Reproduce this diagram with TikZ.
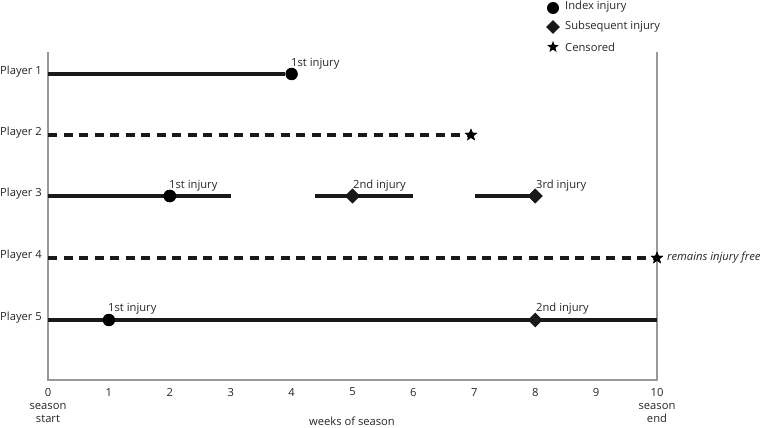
\documentclass[tikz,border=0pt]{standalone}
\usepackage{fontspec}
\setmainfont{Open Sans}
\usetikzlibrary{shapes.geometric}
\begin{document}
\begin{tikzpicture}[x=1pt,y=-1pt,
  lbl/.style={font=\fontsize{11.2}{13}\selectfont, inner sep=0pt, text=black!85},
  axisline/.style={draw=black!40, line width=1.4pt},
  track/.style={line width=3.8pt, draw=black!90},
  dtrack/.style={line width=3.8pt, draw=black!90, dash pattern=on 9pt off 6.5pt},
  idx/.style={circle, fill=black, inner sep=0pt, minimum size=12.5pt},
  sub/.style={diamond, fill=black!90, inner sep=0pt, minimum size=15pt},
  cens/.style={star, star points=5, star point ratio=2.3, fill=black, inner sep=0pt, minimum size=13pt}]
\useasboundingbox (0,0) rectangle (766,428);
% axes
\coordinate (o) at (48,380);
\coordinate (otop) at (48,52);
\coordinate (e) at (657,380);
\coordinate (etop) at (657,52);
\draw[axisline] (otop) -- (o) -- (e) -- (etop);
% ticks
\foreach \i in {0,...,10} {
  \node[lbl] (t\i) at ({48+60.9*\i},392) {\i};
}
\node[lbl, align=center, font=\fontsize{11.2}{13.5}\selectfont] (ss) at (48,413) {season\\start};
\node[lbl, align=center, font=\fontsize{11.2}{13.5}\selectfont] (se) at (657,413) {season\\end};
\node[lbl] (wk) at (352,421) {weeks of season};
% player labels
\foreach \p/\y in {1/74,2/135,3/196,4/258,5/320} {
  \node[lbl, anchor=west] (pl\p) at (0,\y-2) {Player \p};
}
% Player 1
\coordinate (p1s) at (48,74);
\node[idx] (p1a) at (291.6,74) {};
\draw[track] (p1s) -- (p1a);
\node[lbl, anchor=south west] (p1al) at (291,69) {1st injury};
% Player 2
\coordinate (p2s) at (48,135);
\node[cens] (p2c) at (471,135) {};
\draw[dtrack] (p2s) -- (p2c.center);
\node[cens] at (471,135) {};
% Player 3
\coordinate (p3s) at (48,196);
\coordinate (p3e1) at (231,196);
\coordinate (p3s2) at (315,196);
\coordinate (p3e2) at (413,196);
\coordinate (p3s3) at (475,196);
\node[idx] (p3a) at (169.8,196) {};
\node[sub] (p3b) at (352.5,196) {};
\node[sub] (p3c) at (535.2,196) {};
\draw[track] (p3s) -- (p3e1);
\draw[track] (p3s2) -- (p3e2);
\draw[track] (p3s3) -- (p3c.center);
\node[idx] at (169.8,196) {};
\node[sub] at (352.5,196) {};
\node[sub] at (535.2,196) {};
\node[lbl, anchor=south west] (p3al) at (169,191) {1st injury};
\node[lbl, anchor=south west] (p3bl) at (353,191) {2nd injury};
\node[lbl, anchor=south west] (p3cl) at (536,191) {3rd injury};
% Player 4
\coordinate (p4s) at (48,258);
\node[cens] (p4c) at (657,258) {};
\draw[dtrack] (p4s) -- (p4c.center);
\node[cens] at (657,258) {};
\node[lbl, anchor=west, font=\fontsize{11.2}{13}\selectfont\itshape] (p4l) at (667,258) {remains injury free};
% Player 5
\coordinate (p5s) at (48,320);
\coordinate (p5e) at (657,320);
\draw[track] (p5s) -- (p5e);
\node[idx] (p5a) at (108.9,320) {};
\node[sub] (p5b) at (535.2,320) {};
\node[lbl, anchor=south west] (p5al) at (108,314) {1st injury};
\node[lbl, anchor=south west] (p5bl) at (536,314) {2nd injury};
% legend
\node[idx, minimum size=12pt] (lg1) at (553,8) {};
\node[sub, minimum size=14pt] (lg2) at (553,27) {};
\node[cens, minimum size=12pt] (lg3) at (553,47) {};
\node[lbl, anchor=west] (lg1t) at (565,7) {Index injury};
\node[lbl, anchor=west] (lg2t) at (565,27) {Subsequent injury};
\node[lbl, anchor=west] (lg3t) at (565,47) {Censored};
\end{tikzpicture}
\end{document}
